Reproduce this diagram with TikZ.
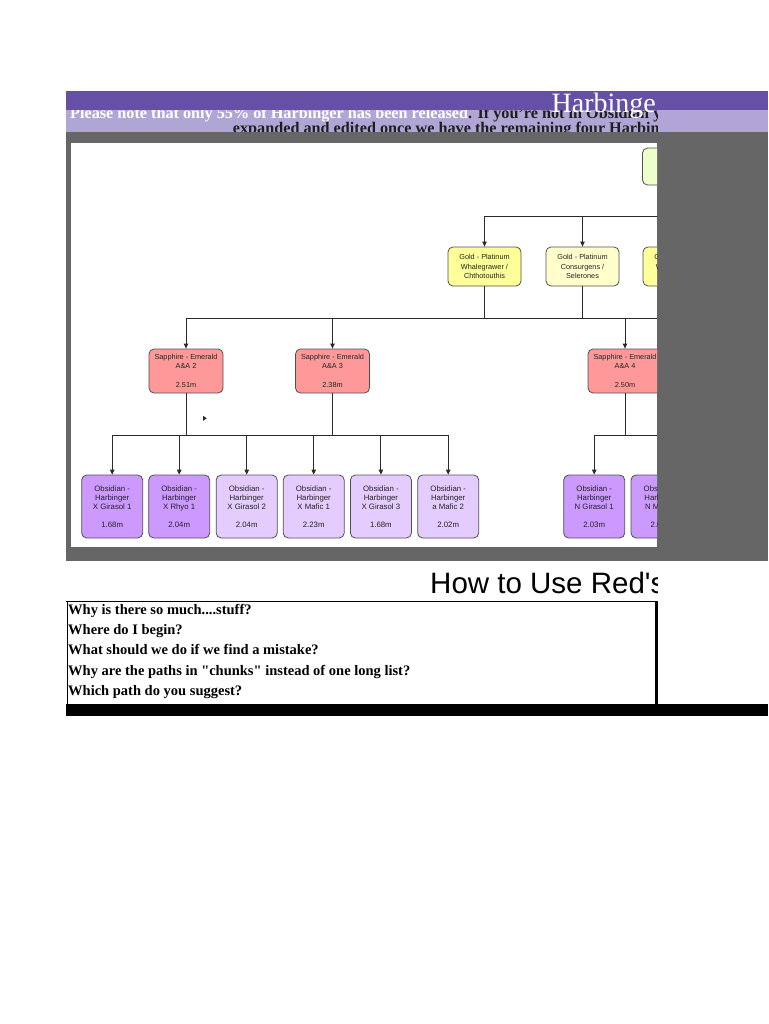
\documentclass[tikz,border=0pt]{standalone}
\usepackage{fontspec}
\setmainfont{Liberation Serif}
\setsansfont{Liberation Sans}
\newfontfamily\howfont[Ligatures=TeXOff]{Liberation Sans}
\newfontfamily\qfont[Ligatures=TeXOff]{Liberation Serif}
\usetikzlibrary{arrows.meta}
\definecolor{bandpurple}{HTML}{6650A6}
\definecolor{bandlight}{HTML}{B0A5D5}
\definecolor{panelgray}{HTML}{666666}
\definecolor{greenfill}{HTML}{EEFFCC}
\definecolor{yellowA}{HTML}{FFFF99}
\definecolor{yellowB}{HTML}{FFFFCC}
\definecolor{redfill}{HTML}{FF9999}
\definecolor{purpA}{HTML}{CC99FF}
\definecolor{purpB}{HTML}{E5CCFF}
\definecolor{nodeborder}{HTML}{505050}
\definecolor{linecol}{HTML}{2A2A2A}
\definecolor{notedark}{HTML}{1E1E1E}
\definecolor{nodetext}{HTML}{222222}
\begin{document}
\begin{tikzpicture}[x=1pt,y=-1pt,
  box/.style={draw=nodeborder, line width=0.8pt, rounded corners=5pt, inner sep=0pt, align=center, text=nodetext},
  gold/.style={box, minimum width=73pt, minimum height=39pt, font=\sffamily\fontsize{7.3}{9.2}\selectfont},
  sapph/.style={box, fill=redfill, minimum width=74pt, minimum height=44pt, font=\sffamily\fontsize{7.3}{9.5}\selectfont},
  obsid/.style={box, minimum width=61pt, minimum height=63pt, font=\sffamily\fontsize{7.8}{9}\selectfont},
  conn/.style={draw=linecol, line width=0.9pt},
  arr/.style={conn, -{Triangle[length=5pt,width=4.5pt]}},
  qline/.style={anchor=base west, inner sep=0pt, font=\qfont\bfseries\fontsize{14.5}{16}\selectfont},
  notetext/.style={anchor=base west, inner sep=0pt, text=notedark, font=\bfseries\fontsize{16.2}{16}\selectfont}
]
\useasboundingbox (0,0) rectangle (768,1024);
\fill[white] (0,0) rectangle (768,1024);
% header bands
\fill[bandpurple] (66,90.7) rectangle (768,110.5);
\fill[bandlight] (66,110.5) rectangle (768,132.5);
\begin{scope}
  \clip (66,110.5) rectangle (657,132.5);
  \node[notetext] (note1) at (70,118.5) {\textcolor{white}{Please note that only 55\% of Harbinger has been released}. If you're not in Obsidian y};
  \node[notetext] (note2) at (232.7,133.5) {expanded and edited once we have the remaining four Harbin};
\end{scope}
\fill[panelgray] (66,132.5) rectangle (768,561);
\begin{scope}
  \clip (66,85) rectangle (657,132.5);
  \node[anchor=base west, inner sep=0pt, text=white, font=\fontsize{28}{28}\selectfont] (title) at (551.5,113) {Harbinge};
\end{scope}
% chart panel
\fill[white] (71,143) rectangle (657,547);
\begin{scope}
  \clip (71,143) rectangle (657,547);
  \coordinate (lvA) at (0,216);
  \coordinate (lvB) at (0,318);
  \coordinate (lvC) at (0,435);
  \coordinate (edge) at (720,0);
  \node[box, fill=greenfill, minimum width=74pt, minimum height=37pt] (G) at (679.5,166.5) {};
  \node[gold, fill=yellowA] (Y1) at (484.5,266.5) {Gold - Platinum\\Whalegrawer /\\Chthotouthis};
  \node[gold, fill=yellowB] (Y2) at (582.5,266.5) {Gold - Platinum\\Consurgens /\\Selerones};
  \node[gold, fill=yellowA] (Y3) at (679.5,266.5) {Gold - Platinum\\Whalegrawer /\\~};
  \node[sapph] (R1) at (186,371) {Sapphire - Emerald\\A\&A 2\\[9.5pt]2.51m};
  \node[sapph] (R2) at (332.5,371) {Sapphire - Emerald\\A\&A 3\\[9.5pt]2.38m};
  \node[sapph] (R3) at (625,371) {Sapphire - Emerald\\A\&A 4\\[9.5pt]2.50m};
  \node[obsid, fill=purpA] (P1) at (112.2,506.5) {Obsidian -\\Harbinger\\X Girasol 1\\[9pt]1.68m};
  \node[obsid, fill=purpA] (P2) at (179.2,506.5) {Obsidian -\\Harbinger\\X Rhyo 1\\[9pt]2.04m};
  \node[obsid, fill=purpB] (P3) at (246.7,506.5) {Obsidian -\\Harbinger\\X Girasol 2\\[9pt]2.04m};
  \node[obsid, fill=purpB] (P4) at (313.7,506.5) {Obsidian -\\Harbinger\\X Mafic 1\\[9pt]2.23m};
  \node[obsid, fill=purpB] (P5) at (380.9,506.5) {Obsidian -\\Harbinger\\X Girasol 3\\[9pt]1.68m};
  \node[obsid, fill=purpB] (P6) at (448.2,506.5) {Obsidian -\\Harbinger\\a Mafic 2\\[9pt]2.02m};
  \node[obsid, fill=purpA] (N1) at (594.2,506.5) {Obsidian -\\Harbinger\\N Girasol 1\\[9pt]2.03m};
  \node[obsid, fill=purpA] (N2) at (661.5,506.5) {Obsidian -\\Harbinger\\N Mafic 1\\[9pt]2.04m};
  % level A
  \draw[arr] (G.south) |- (Y1.north |- lvA) -- (Y1.north);
  \draw[arr] (G.south) |- (Y2.north |- lvA) -- (Y2.north);
  \draw[arr] (G.south) -- (Y3.north);
  \draw[conn] (Y1.north |- lvA) -- (edge |- lvA);
  % level B
  \draw[conn] (Y1.south) -- (Y1.south |- lvB);
  \draw[conn] (Y2.south) -- (Y2.south |- lvB);
  \draw[conn] (R1.north |- lvB) -- (edge |- lvB);
  \draw[arr] (Y1.south |- lvB) -| (R1.north);
  \draw[arr] (Y1.south |- lvB) -| (R2.north);
  \draw[arr] (Y2.south |- lvB) -| (R3.north);
  % level C
  \draw[conn] (R1.south) -- (R1.south |- lvC);
  \draw[conn] (R2.south) -- (R2.south |- lvC);
  \draw[conn] (P1.north |- lvC) -- (P6.north |- lvC);
  \draw[arr] (P1.north |- lvC) -- (P1.north);
  \draw[arr] (P2.north |- lvC) -- (P2.north);
  \draw[arr] (P3.north |- lvC) -- (P3.north);
  \draw[arr] (P4.north |- lvC) -- (P4.north);
  \draw[arr] (P5.north |- lvC) -- (P5.north);
  \draw[arr] (P6.north |- lvC) -- (P6.north);
  \draw[conn] (R3.south) -- (R3.south |- lvC);
  \draw[conn] (N1.north |- lvC) -- (edge |- lvC);
  \draw[arr] (N1.north |- lvC) -- (N1.north);
  \draw[arr] (N2.north |- lvC) -- (N2.north);
  % stray pointer mark
  \fill[linecol] (203,415.8) -- (206.8,418.3) -- (203,420.8) -- cycle;
\end{scope}
% how to use
\begin{scope}
  \clip (60,560) rectangle (657,600);
  \node[anchor=base west, inner sep=0pt, font=\howfont\fontsize{29.5}{30}\selectfont] (howto) at (430,593) {How to Use Red's};
\end{scope}
% Q&A box
\draw[line width=1.5pt] (66,601.5) -- (657,601.5);
\draw[line width=0.8pt] (67,601.5) -- (67,704);
\draw[line width=2.5pt] (656.5,600.75) -- (656.5,704);
\fill[black] (66,704) rectangle (768,716);
\node[qline] (q1) at (68,614) {Why is there so much....stuff?};
\node[qline] (q2) at (68,634) {Where do I begin?};
\node[qline] (q3) at (68,654) {What should we do if we find a mistake?};
\node[qline] (q4) at (68,675) {Why are the paths in "chunks" instead of one long list?};
\node[qline] (q5) at (68,695) {Which path do you suggest?};
\end{tikzpicture}
\end{document}
